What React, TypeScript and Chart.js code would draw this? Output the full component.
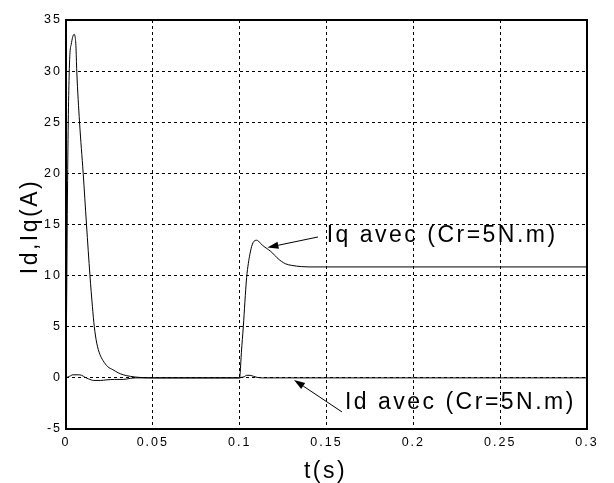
import React, { useEffect, useRef } from "react";
import { Chart, registerables } from "chart.js";

Chart.register(...registerables);

// Iq (A) vs t (s)
const iqT = [0, 0.0004, 0.0008, 0.0013, 0.0018, 0.0023, 0.003, 0.0038, 0.0046, 0.0052, 0.0057, 0.0062, 0.0078, 0.0099, 0.0118, 0.0138, 0.0152, 0.0163, 0.0177, 0.0195, 0.0213, 0.024, 0.027, 0.03, 0.033, 0.037, 0.042, 0.05, 0.1, 0.1003, 0.101, 0.1021, 0.103, 0.104, 0.105, 0.1059, 0.1069, 0.1078, 0.1088, 0.1098, 0.1108, 0.112, 0.114, 0.1165, 0.119, 0.1215, 0.124, 0.1265, 0.13, 0.1357, 0.14, 0.3];
const iqV = [0, 8, 17, 25, 29.5, 31.8, 32.6, 33.3, 33.6, 33.4, 32.5, 30, 25, 20, 15, 10, 7, 5, 3.4, 2.3, 1.7, 1.1, 0.8, 0.5, 0.3, 0.15, 0.05, 0, 0, 0.5, 2.5, 5, 7.4, 9.8, 11.2, 12.1, 12.85, 13.25, 13.43, 13.46, 13.38, 13.15, 12.85, 12.55, 12.2, 11.75, 11.4, 11.15, 11.0, 10.88, 10.85, 10.85];

// Id (A) vs t (s)
const idT = [0, 0.002, 0.004, 0.007, 0.009, 0.011, 0.013, 0.016, 0.02, 0.023, 0.028, 0.033, 0.037, 0.04, 0.1, 0.101, 0.1025, 0.104, 0.106, 0.108, 0.11, 0.113, 0.3];
const idV = [0, 0.15, 0.3, 0.3, 0.25, 0.05, -0.1, -0.25, -0.25, -0.2, -0.15, -0.15, -0.05, 0, 0, 0.05, 0.1, 0.25, 0.25, 0.15, 0.05, 0, 0];

const xTickLabels = ["0", "0.05", "0.1", "0.15", "0.2", "0.25", "0.3"];
const yTickLabels = ["-5", "0", "5", "10", "15", "20", "25", "30", "35"];

const xTitle = "t(s)";
const yTitle = "Id,Iq(A)";
const iqLabel = "Iq avec (Cr=5N.m)";
const idLabel = "Id avec (Cr=5N.m)";

// annotation anchors in data units [t, value]
const iqArrowTail = [0.1451, 13.78];
const iqArrowHead = [0.116, 12.75];
const iqTextAt = [0.1501, 13.26];
const idArrowTail = [0.1589, -3.33];
const idArrowHead = [0.1313, -0.2];
const idTextAt = [0.1606, -3.07];

const FONT = "'Liberation Sans', Arial, Helvetica, sans-serif";

function drawArrow(ctx: CanvasRenderingContext2D, x1: number, y1: number, x2: number, y2: number) {
  const ang = Math.atan2(y2 - y1, x2 - x1);
  const len = 11;
  const half = 3.6;
  const bx = x2 - len * Math.cos(ang);
  const by = y2 - len * Math.sin(ang);
  ctx.beginPath();
  ctx.moveTo(x1, y1);
  ctx.lineTo(bx, by);
  ctx.stroke();
  ctx.beginPath();
  ctx.moveTo(x2, y2);
  ctx.lineTo(bx + half * Math.sin(ang), by - half * Math.cos(ang));
  ctx.lineTo(bx - half * Math.sin(ang), by + half * Math.cos(ang));
  ctx.closePath();
  ctx.fill();
}

const overlay = {
  id: "overlay",
  beforeDraw(chart: any) {
    (chart.ctx as any).letterSpacing = "2px";
  },
  afterDraw(chart: any) {
    const ctx: CanvasRenderingContext2D = chart.ctx;
    const a = chart.chartArea;
    const xs = chart.scales.x;
    const ys = chart.scales.y;
    ctx.save();
    ctx.setLineDash([]);
    ctx.strokeStyle = "#000";
    ctx.fillStyle = "#000";
    ctx.lineWidth = 2;
    ctx.strokeRect(a.left, a.top, a.right - a.left, a.bottom - a.top);

    ctx.lineWidth = 1;
    drawArrow(ctx, xs.getPixelForValue(iqArrowTail[0]), ys.getPixelForValue(iqArrowTail[1]), xs.getPixelForValue(iqArrowHead[0]), ys.getPixelForValue(iqArrowHead[1]));
    drawArrow(ctx, xs.getPixelForValue(idArrowTail[0]), ys.getPixelForValue(idArrowTail[1]), xs.getPixelForValue(idArrowHead[0]), ys.getPixelForValue(idArrowHead[1]));

    (ctx as any).letterSpacing = "2.5px";
    ctx.font = `23px ${FONT}`;
    ctx.textBaseline = "alphabetic";
    ctx.textAlign = "left";
    ctx.fillStyle = "#000";
    ctx.fillText(iqLabel, xs.getPixelForValue(iqTextAt[0]), ys.getPixelForValue(iqTextAt[1]));
    ctx.fillText(idLabel, xs.getPixelForValue(idTextAt[0]), ys.getPixelForValue(idTextAt[1]));

    ctx.textAlign = "center";
    ctx.fillText(xTitle, (a.left + a.right) / 2 - 1, 478);

    ctx.translate(37, (a.top + a.bottom) / 2 + 2);
    ctx.rotate(-Math.PI / 2);
    ctx.fillText(yTitle, 0, 0);
    ctx.restore();
  },
};

export default function App() {
  const ref = useRef<HTMLCanvasElement | null>(null);
  useEffect(() => {
    if (!ref.current) return;
    const iqData = iqT.map((t, i) => ({ x: t, y: iqV[i] }));
    const idData = idT.map((t, i) => ({ x: t, y: idV[i] }));
    const chart = new Chart(ref.current, {
      type: "line",
      data: {
        datasets: [
          { label: "Iq", data: iqData, borderColor: "#000", borderWidth: 1, pointRadius: 0, cubicInterpolationMode: "monotone", fill: false },
          { label: "Id", data: idData, borderColor: "#000", borderWidth: 1, pointRadius: 0, cubicInterpolationMode: "monotone", fill: false },
        ],
      },
      options: {
        responsive: false,
        animation: false,
        devicePixelRatio: 1,
        layout: { padding: { left: 0, top: 20, right: 27, bottom: 0 } },
        plugins: { legend: { display: false }, tooltip: { enabled: false } },
        scales: {
          x: {
            type: "linear",
            min: 0,
            max: 0.3,
            afterFit: (s: any) => { s.height = 54; },
            afterBuildTicks: (s: any) => {
              s.ticks = xTickLabels.map((l) => ({ value: parseFloat(l) }));
            },
            ticks: {
              callback: (_v: any, i: number) => xTickLabels[i],
              font: { family: FONT, size: 12.5 },
              color: "#000",
              padding: 6,
              maxRotation: 0,
              autoSkip: false,
            },
            grid: { color: "#000", lineWidth: 1, drawTicks: false },
            border: { display: false, dash: [3, 3] },
          },
          y: {
            type: "linear",
            min: -5,
            max: 35,
            afterFit: (s: any) => { s.width = 66; },
            afterBuildTicks: (s: any) => {
              s.ticks = yTickLabels.map((l) => ({ value: parseFloat(l) }));
            },
            ticks: {
              callback: (_v: any, i: number) => yTickLabels[i],
              font: { family: FONT, size: 12.5 },
              color: "#000",
              padding: 4,
              autoSkip: false,
            },
            grid: { color: "#000", lineWidth: 1, drawTicks: false },
            border: { display: false, dash: [3, 3] },
          },
        },
      },
      plugins: [overlay],
    } as any);
    return () => chart.destroy();
  }, []);
  return (
    <div style={{ position: "fixed", left: 0, top: 0, width: 614, height: 483, background: "#fff" }}>
      <canvas ref={ref} width={614} height={483} style={{ display: "block" }} />
    </div>
  );
}
